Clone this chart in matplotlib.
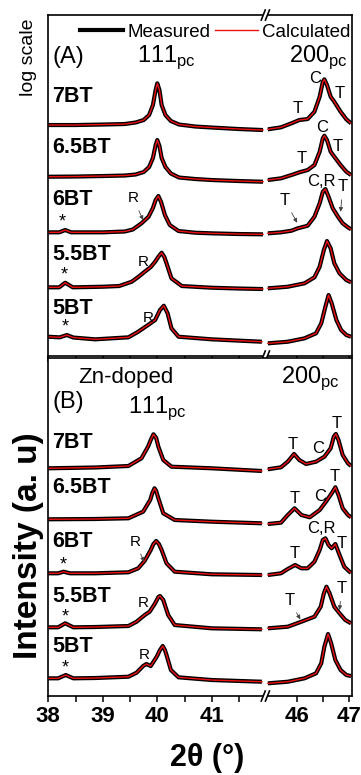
import numpy as np
import matplotlib.pyplot as plt
from matplotlib.lines import Line2D
from matplotlib.transforms import blended_transform_factory, ScaledTranslation

plt.rcParams['font.family'] = ['Liberation Sans', 'DejaVu Sans']
plt.rcParams['mathtext.fontset'] = 'custom'
plt.rcParams['mathtext.rm'] = 'Liberation Sans'

samples = ["7BT", "6.5BT", "6BT", "5.5BT", "5BT"]
xticks = [38, 39, 40, 41, 46, 47]
xminor = [38.5, 39.5, 40.5, 41.5, 46.5]

# 2theta (deg) and intensity (a.u., above each trace's own baseline)
# panel A - undoped
a7_x = [38.0, 38.5, 39.0, 39.4, 39.6, 39.75, 39.85, 39.92, 39.97, 40.0, 40.04, 40.08, 40.15, 40.25, 40.4, 40.7, 41.0, 41.5, 41.94,
        45.44, 45.69, 45.89, 46.04, 46.2, 46.33, 46.43, 46.49, 46.52, 46.57, 46.64, 46.71, 46.83, 46.94, 47.03]
a7_y = [5, 5, 5.5, 6, 7.5, 10, 15, 25, 40, 46.7, 40, 25, 15, 9, 5.5, 3.5, 2.5, 1, 0,
        0.7, 2.7, 6.7, 10, 11, 18.3, 33.3, 48.3, 50.7, 45, 33.3, 28.3, 18.3, 10.7, 6.7]
a65_x = [38.0, 38.5, 39.0, 39.4, 39.6, 39.75, 39.85, 39.92, 39.97, 40.0, 40.04, 40.08, 40.15, 40.25, 40.4, 40.7, 41.0, 41.5, 41.94,
         45.44, 45.69, 45.89, 46.04, 46.2, 46.33, 46.43, 46.49, 46.52, 46.57, 46.64, 46.71, 46.83, 46.94, 47.03]
a65_y = [5.3, 5.5, 6, 6.5, 7.5, 10, 15, 24, 37, 42, 36, 24, 15, 8.5, 4.5, 3, 2, 1, 0.3,
         2, 3.7, 7, 9.7, 12, 17, 30.3, 43.7, 46.3, 42, 30.3, 25.3, 17, 10.3, 7]
a6_x = [38.0, 38.2, 38.31, 38.42, 39.0, 39.4, 39.55, 39.71, 39.84, 39.92, 39.97, 40.02, 40.07, 40.14, 40.23, 40.39, 40.7, 41.0, 41.5, 41.94,
        45.44, 45.69, 45.89, 46.01, 46.2, 46.33, 46.43, 46.49, 46.54, 46.6, 46.68, 46.78, 46.87, 46.97, 47.03]
a6_y = [2.2, 2.2, 4.5, 2.2, 2.2, 3, 5, 11.2, 17.8, 26.5, 34.5, 38.5, 32.5, 19.5, 9.5, 3.5, 1.8, 1.2, 0.5, 0.2,
        1.2, 2.2, 3.8, 6.2, 8.8, 17.8, 31.2, 42.8, 45.5, 37.8, 26.2, 17.8, 11.2, 7.2, 5.2]
a55_x = [38.0, 38.2, 38.31, 38.45, 39.0, 39.3, 39.53, 39.65, 39.77, 39.88, 39.96, 40.03, 40.08, 40.13, 40.17, 40.26, 40.45, 41.0, 41.5, 41.94,
         45.44, 45.82, 46.14, 46.33, 46.43, 46.51, 46.57, 46.64, 46.71, 46.81, 46.94, 47.03]
a55_y = [2.2, 2.2, 6.8, 2.2, 2.8, 3.5, 7.8, 12.5, 17.8, 22.5, 27.8, 33.5, 36.8, 32.5, 26.2, 11.2, 3.5, 1.8, 1, 0.5,
         1.2, 2.8, 6.2, 12.2, 22.8, 39.5, 48.5, 41.2, 26.2, 16.2, 9.5, 7.2]
a5_x = [38.0, 38.21, 38.34, 38.46, 38.86, 39.47, 39.65, 39.83, 39.96, 40.05, 40.12, 40.19, 40.26, 40.39, 41.0, 41.92,
        45.44, 45.82, 46.14, 46.36, 46.46, 46.54, 46.6, 46.66, 46.75, 46.84, 46.94, 47.03]
a5_y = [6.8, 6.2, 8.5, 6, 4.2, 6.2, 11.8, 18.5, 23.5, 33.5, 37.8, 30.2, 15.2, 6.8, 4.2, 1.8,
        0.2, 1.8, 5.2, 10.2, 20.2, 36.8, 48.5, 40.2, 23.5, 13.5, 8.5, 6.8]

# panel B - Zn-doped
b7_x = [38.0, 38.86, 39.47, 39.71, 39.83, 39.88, 39.93, 39.98, 40.02, 40.11, 40.26, 41.0, 41.92,
        45.44, 45.69, 45.82, 45.94, 46.04, 46.17, 46.36, 46.52, 46.64, 46.7, 46.74, 46.79, 46.87, 46.97, 47.03]
b7_y = [2.7, 3.5, 5, 12.7, 24.3, 31, 36.7, 33, 24.3, 11, 4.3, 2.7, 0,
        1.7, 3.7, 9.3, 17, 11, 7, 9.3, 14.3, 22.7, 34.3, 37, 31, 16, 7.7, 5]
b65_x = [38.0, 38.86, 39.47, 39.74, 39.87, 39.91, 39.95, 39.98, 40.02, 40.11, 40.32, 41.0, 41.92,
         45.44, 45.69, 45.82, 45.95, 46.08, 46.24, 46.43, 46.55, 46.66, 46.73, 46.79, 46.87, 46.97, 47.03]
b65_y = [4.7, 5, 5.7, 12.3, 24, 31, 35.7, 33, 25.7, 10.7, 4, 2.3, 0.7,
         0, 1.3, 9, 15.7, 9, 6.7, 14, 22.3, 30.7, 36.7, 29, 15.7, 9, 6.7]
b6_x = [38.0, 38.18, 38.28, 38.4, 38.86, 39.47, 39.65, 39.77, 39.88, 39.93, 39.98, 40.03, 40.08, 40.17, 40.32, 41.0, 41.92,
        45.44, 45.69, 45.82, 45.96, 46.08, 46.2, 46.33, 46.43, 46.49, 46.54, 46.6, 46.66, 46.73, 46.81, 46.9, 47.0, 47.03]
b6_y = [1.7, 1.7, 3.3, 1.7, 1.7, 2.7, 6.7, 14.3, 25, 31, 34, 31, 25, 11.7, 3.3, 0.7, 0,
        0, 1.7, 6, 10, 6.7, 6.7, 13.3, 25, 35, 36.7, 30, 26.7, 31, 20, 8.3, 3.3, 2.3]
b55_x = [38.0, 38.18, 38.31, 38.46, 38.86, 39.47, 39.62, 39.77, 39.86, 39.96, 40.02, 40.05, 40.11, 40.2, 40.32, 41.0, 41.92,
         45.44, 45.82, 46.08, 46.33, 46.45, 46.51, 46.56, 46.62, 46.71, 46.81, 46.92, 47.03]
b55_y = [2, 2, 6, 2, 2.3, 3.3, 7.6, 14.3, 17.6, 26, 32.3, 33.3, 29.3, 14.3, 4.3, 1, 0,
         1, 2.6, 7.6, 12.6, 22.6, 36, 42.6, 36, 22.6, 16, 9.3, 6]
b5_x = [38.0, 38.18, 38.32, 38.46, 38.86, 39.47, 39.62, 39.74, 39.8, 39.88, 39.99, 40.05, 40.1, 40.14, 40.17, 40.25, 40.39, 41.0, 41.92,
        45.44, 45.82, 46.14, 46.36, 46.46, 46.52, 46.59, 46.65, 46.73, 46.83, 46.94, 47.03]
b5_y = [5, 5, 8.3, 5, 5.3, 6.6, 10.6, 17.3, 19.3, 17.3, 26.6, 33.3, 37.3, 33.3, 28.3, 13.3, 6, 3.3, 1.6,
        0, 1.6, 5, 10, 20, 36.6, 49.3, 40, 23.3, 13.3, 8.3, 7.3]

a_offsets = [226, 174, 121.5, 66.5, 12.5]
b_offsets = [225, 172, 121, 66.7, 12.7]

# broken x axis: 41.94 .. 45.44 squeezed into a small gap
L, R, G, K = 41.94, 45.44, 0.09, 0.96


def fwd(x):
    x = np.asarray(x, float)
    return np.where(x <= L, x, np.where(x >= R, L + G + (x - R) * K, L + (x - L) * G / (R - L)))


def inv(y):
    y = np.asarray(y, float)
    return np.where(y <= L, y, np.where(y >= L + G, R + (y - L - G) / K, L + (y - L) * (R - L) / G))


fig = plt.figure(figsize=(3.61, 7.75), dpi=100)
axA = fig.add_axes([0.1338, 0.5406, 0.8401, 0.44])
axB = fig.add_axes([0.1338, 0.1019, 0.8401, 0.4362])


def draw(ax, xs, ys, off):
    x = np.array(xs)
    y = np.array(ys) + off
    for m in (x < 43, x > 43):
        ax.plot(x[m], y[m], color='black', lw=3.0, solid_joinstyle='round', solid_capstyle='butt')
        ax.plot(x[m], y[m], color='#ee1111', lw=1.0)


def axis_break(ax, yf):
    # "//" mark on the frame at the gap between the two x ranges
    tr = fig.dpi_scale_trans + ScaledTranslation(
        (L + R) / 2 - 0.06, yf, blended_transform_factory(ax.transData, ax.transAxes))
    ax.plot([-0.02, 0.02], [0, 0], color='white', lw=4.5,
            transform=tr, clip_on=False, solid_capstyle='butt', zorder=5)
    for dx in (-0.021, 0.021):
        ax.plot([dx - 0.02, dx + 0.02], [-0.05, 0.05], color='black', lw=1.2,
                transform=tr, clip_on=False, zorder=6)


for ax, traces, offs, top in [(axA, [(a7_x, a7_y), (a65_x, a65_y), (a6_x, a6_y), (a55_x, a55_y), (a5_x, a5_y)], a_offsets, 341),
                              (axB, [(b7_x, b7_y), (b65_x, b65_y), (b6_x, b6_y), (b55_x, b55_y), (b5_x, b5_y)], b_offsets, 338)]:
    ax.set_xscale('function', functions=(fwd, inv))
    for (xs, ys), off in zip(traces, offs):
        draw(ax, xs, ys, off)
    ax.set_xlim(38, 47.04)
    ax.set_ylim(0, top)
    ax.set_yticks([])
    ax.set_xticks(xticks)
    ax.set_xticks(xminor, minor=True)
    ax.tick_params(axis='x', which='both', direction='out', length=4.3, width=1.1, pad=3)
    for s in ax.spines.values():
        s.set_linewidth(1.2)

axis_break(axA, 1)
axis_break(axA, 0)
axis_break(axB, 0)

axA.set_xticklabels([])
axB.set_xticklabels([str(t) for t in xticks], fontsize=16, fontweight='bold')

# sample labels
a_lab_y = [254.3, 202.7, 151, 96, 42]
b_lab_y = [247.7, 202.7, 149.3, 94.3, 44.3]
for ax, ys in [(axA, a_lab_y), (axB, b_lab_y)]:
    for name, y in zip(samples, ys):
        ax.text(38.07, y, name, fontsize=15.5, fontweight='bold', ha='left', va='baseline')

# panel headers
axA.text(38.07, 292.7, '(A)', fontsize=17, ha='left', va='baseline')
axA.text(39.63, 294.3, r'111$_{\mathregular{pc}}$', fontsize=17, ha='left', va='baseline')
axA.text(45.85, 294.3, r'200$_{\mathregular{pc}}$', fontsize=17, ha='left', va='baseline')
axB.text(38.07, 287.7, '(B)', fontsize=17, ha='left', va='baseline')
axB.text(39.46, 282.7, r'111$_{\mathregular{pc}}$', fontsize=17, ha='left', va='baseline')
axB.text(39.42, 313.3, 'Zn-doped', fontsize=16, ha='center', va='baseline')
axB.text(45.7, 312.7, r'200$_{\mathregular{pc}}$', fontsize=17, ha='left', va='baseline')

# peak markers
a_marks = [('C', 46.34, 277.5, 12), ('T', 46.81, 262.7, 12), ('T', 46.01, 247.7, 12),
           ('C', 46.47, 228.7, 12), ('T', 46.78, 209.3, 12), ('T', 46.08, 197.7, 12),
           ('C,R', 46.46, 174.3, 12),
           ('*', 38.26, 134.3, 13), ('R', 39.74, 94.3, 11), ('*', 38.29, 81, 13),
           ('R', 39.83, 37.7, 11), ('*', 38.32, 28.7, 13)]
a_arrows = [('T', (46.87, 169.3), (46.83, 144.3), 12), ('T', (45.76, 156), (46.0, 133.3), 12),
            ('R', (39.56, 157.7), (39.74, 136), 11)]
b_marks = [('T', 45.92, 251, 12), ('C', 46.41, 247.7, 12), ('T', 46.75, 272.7, 12),
           ('T', 45.95, 197.7, 12), ('C', 46.43, 199.3, 12), ('T', 46.71, 219.3, 12),
           ('C,R', 46.46, 167.7, 12), ('T', 46.85, 152.7, 12), ('T', 45.95, 142.7, 12),
           ('*', 38.28, 131, 13), ('R', 39.74, 92.7, 11), ('*', 38.31, 79.3, 13),
           ('R', 39.77, 41, 11), ('*', 38.31, 27.7, 13)]
b_arrows = [('T', (45.85, 96), (46.06, 76.7), 12), ('T', (46.85, 107.7), (46.81, 86), 12),
            ('R', (39.59, 154.3), (39.76, 134.3), 11)]

for ax, marks, arrows in [(axA, a_marks, a_arrows), (axB, b_marks, b_arrows)]:
    for t, x, y, fs in marks:
        ax.text(x, y, t, fontsize=fs, ha='center', va='center')
    for t, xyt, xy, fs in arrows:
        ax.annotate(t, xy=xy, xytext=xyt, fontsize=fs, ha='center', va='center',
                    arrowprops=dict(arrowstyle='-|>', lw=0.6, color='0.25', mutation_scale=6, shrinkA=2, shrinkB=0))

# legend
handles = [Line2D([], [], color='black', lw=3.0), Line2D([], [], color='#ee1111', lw=1.0)]
axA.legend(handles, ['Measured', 'Calculated'], loc='center left', bbox_to_anchor=(0.105, 0.95),
           ncol=2, frameon=False, fontsize=13.5, handlelength=2.3, handletextpad=0.2,
           columnspacing=0.25, borderpad=0, borderaxespad=0)

fig.text(0.0776, 0.9258, 'log scale', rotation=90, fontsize=14, ha='center', va='center')
fig.text(0.0776, 0.2955, 'Intensity (a. u)', rotation=90, fontsize=24, fontweight='bold', ha='center', va='center')
fig.text(0.575, 0.022, '2θ (°)', fontsize=22, fontweight='bold', ha='center', va='center')

fig.savefig('out.png', dpi=100)
